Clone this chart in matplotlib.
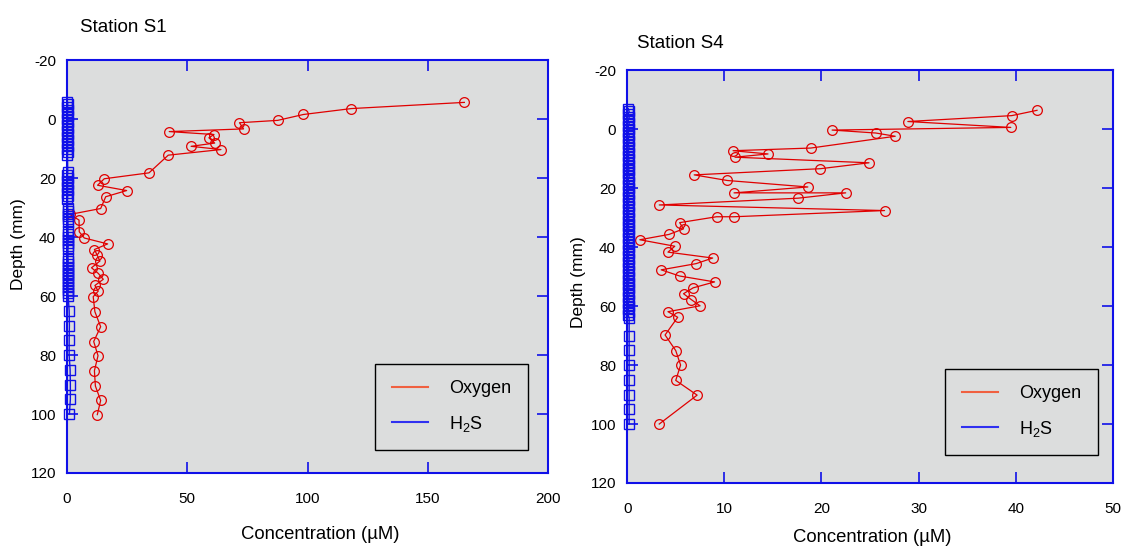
import matplotlib
matplotlib.use("Agg")
import matplotlib.pyplot as plt
from matplotlib.lines import Line2D

plt.rcParams["font.family"] = ["Liberation Sans", "DejaVu Sans"]
plt.rcParams["mathtext.fontset"] = "custom"
plt.rcParams["mathtext.rm"] = "Liberation Sans"
plt.rcParams["mathtext.it"] = "Liberation Sans"
plt.rcParams["axes.unicode_minus"] = False

# Station S1 oxygen profile (concentration in uM, depth in mm)
s1_o2_conc = [165.2, 118.2, 98.3, 87.6, 71.7, 73.4, 42.5, 61.1, 59.0, 61.4, 51.6, 64.0, 42.1,
              34.1, 15.5, 12.7, 24.8, 16.1, 14.0, 1.2, 5.0, 5.1, 7.2, 16.9, 11.4, 12.6, 13.7,
              10.2, 13.0, 15.1, 11.6, 13.0, 10.9, 11.6, 14.0, 11.1, 12.9, 11.4, 11.8, 14.0, 12.6]
s1_o2_depth = [-5.7, -3.6, -1.6, 0.4, 1.2, 3.3, 4.2, 5.2, 6.3, 8.1, 9.2, 10.3, 12.2,
               18.2, 20.2, 22.4, 24.2, 26.3, 30.3, 32.3, 34.2, 38.2, 40.3, 42.3, 44.2, 46.2, 48.1,
               50.4, 52.3, 54.3, 56.4, 58.3, 60.2, 65.3, 70.4, 75.4, 80.2, 85.3, 90.5, 95.4, 100.2]

# Station S1 H2S profile
s1_h2s_depth = [-6, -5, -4, -3, -2, -1, 0, 1, 2, 3, 4, 5, 6, 7, 8, 9, 10, 11, 12,
                18, 19, 20, 21, 22, 23, 24, 25, 26, 27,
                30, 31, 32, 33, 34, 35,
                38, 39, 40, 41, 42, 43, 44,
                47, 48, 49, 50, 51, 52, 53, 54, 55, 56, 57, 58, 59, 60,
                65, 70, 75, 80, 85, 90, 95, 100]
s1_h2s_conc = [0.2, 0.3, 0.2, 0.3, 0.2, 0.3, 0.2, 0.3, 0.2, 0.3, 0.2, 0.3, 0.2, 0.3, 0.2, 0.3, 0.2, 0.3, 0.2,
               0.3, 0.2, 0.3, 0.2, 0.3, 0.2, 0.3, 0.2, 0.3, 0.2,
               0.3, 0.4, 0.3, 0.4, 0.3, 0.4,
               0.4, 0.5, 0.4, 0.5, 0.4, 0.5, 0.4,
               0.4, 0.5, 0.4, 0.5, 0.4, 0.5, 0.4, 0.5, 0.4, 0.5, 0.4, 0.5, 0.4, 0.5,
               0.9, 1.0, 0.9, 0.9, 1.3, 1.4, 1.4, 1.0]

# Station S4 oxygen profile
s4_o2_conc = [42.2, 39.6, 28.9, 39.5, 21.1, 25.6, 27.6, 18.9, 10.9, 14.5, 11.1, 24.9, 19.9,
              6.9, 10.3, 18.6, 11.0, 22.5, 17.6, 3.3, 26.5, 11.0, 9.2, 5.4, 5.8, 4.3, 1.3,
              4.9, 4.2, 8.8, 7.1, 3.5, 5.4, 9.0, 6.8, 5.8, 6.6, 7.5, 4.2, 5.2,
              3.9, 5.0, 5.5, 5.0, 7.2, 3.3]
s4_o2_depth = [-6.4, -4.6, -2.6, -0.6, 0.3, 1.3, 2.4, 6.4, 7.3, 8.4, 9.5, 11.4, 13.4,
               15.5, 17.4, 19.6, 21.6, 21.6, 23.4, 25.7, 27.6, 29.7, 29.7, 31.7, 33.8, 35.7, 37.5,
               39.7, 41.7, 43.7, 45.6, 47.7, 49.8, 51.8, 53.8, 55.8, 57.8, 59.9, 61.9, 63.8,
               69.8, 75.1, 80.0, 85.2, 90.2, 100.0]

# Station S4 H2S profile
s4_h2s_depth = [-7, -6, -5, -4, -3, -2, -1, 0, 1, 2, 3, 4, 5, 6, 7, 8, 9, 10, 11, 12,
                13, 14, 15, 16, 17, 18, 19, 20, 21, 22, 23, 24, 25, 26, 27, 28, 29, 30,
                31, 32, 33, 34, 35, 36, 37, 38, 39, 40, 41, 42, 43, 44, 45, 46, 47, 48,
                49, 50, 51, 52, 53, 54, 55, 56, 57, 58, 59, 60, 61, 62, 63, 64,
                70, 75, 80, 85, 90, 95, 100]
s4_h2s_conc = [0.1, 0.2, 0.1, 0.2, 0.1, 0.2, 0.1, 0.2, 0.1, 0.2, 0.1, 0.2, 0.1, 0.2, 0.1, 0.2, 0.1, 0.2, 0.1, 0.2,
               0.1, 0.2, 0.1, 0.2, 0.1, 0.2, 0.1, 0.2, 0.1, 0.2, 0.1, 0.2, 0.1, 0.2, 0.1, 0.2, 0.1, 0.2,
               0.1, 0.2, 0.1, 0.2, 0.1, 0.2, 0.1, 0.2, 0.1, 0.2, 0.1, 0.2, 0.1, 0.2, 0.1, 0.2, 0.1, 0.2,
               0.1, 0.2, 0.1, 0.2, 0.1, 0.2, 0.1, 0.2, 0.1, 0.2, 0.1, 0.2, 0.1, 0.2, 0.1, 0.2,
               0.2, 0.2, 0.2, 0.2, 0.2, 0.2, 0.2]

blue = "#1010e8"
red = "#e00000"
bg = "#dcdddd"

fig = plt.figure(figsize=(11.24, 5.46), dpi=100)
ax1 = fig.add_axes([0.0596, 0.1337, 0.428, 0.756])
ax2 = fig.add_axes([0.558, 0.1154, 0.432, 0.756])


def style(ax, o2, h2s, xmax, xstep, title, tpos, leg_anchor, xlab_pos, ylab_pos):
    ax.set_facecolor(bg)
    ax.plot(o2[0], o2[1], color=red, lw=0.9, marker="o", ms=7,
            mfc="none", mec=red, mew=0.9)
    ax.plot(h2s[0], h2s[1], color=blue, lw=1.0, marker="s", ms=6.5,
            mfc="none", mec=blue, mew=1.0, clip_on=False)
    ax.set_xlim(0, xmax)
    ax.set_ylim(120, -20)
    ax.set_xticks(range(0, xmax + 1, xstep))
    ax.set_yticks(range(-20, 121, 20))
    for s in ax.spines.values():
        s.set_color(blue)
        s.set_linewidth(1.5)
    ax.tick_params(direction="in", length=8, width=1.2, color=blue,
                   top=True, right=True, labelsize=11, labelcolor="black")
    ax.tick_params(axis="x", pad=14)
    ax.tick_params(axis="y", pad=8)
    ax.set_xlabel("Concentration (µM)", fontsize=13.3)
    ax.set_ylabel("Depth (mm)", fontsize=12.5)
    ax.xaxis.set_label_coords(*xlab_pos)
    ax.yaxis.set_label_coords(*ylab_pos)
    fig.text(tpos[0], tpos[1], title, fontsize=13.6, ha="left", va="center")
    handles = [Line2D([], [], color="#f06040", lw=1.5),
               Line2D([], [], color="#3030f0", lw=1.5)]
    leg = ax.legend(handles, ["Oxygen", "H$_2$S"], loc="lower right",
                    bbox_to_anchor=leg_anchor, borderaxespad=0, fontsize=13,
                    fancybox=False, frameon=True, handlelength=2.0,
                    borderpad=0.9, labelspacing=0.9, handletextpad=1.2)
    leg.get_frame().set_edgecolor("black")
    leg.get_frame().set_facecolor(bg)
    leg.get_frame().set_linewidth(1.0)
    leg.get_frame().set_alpha(1)


style(ax1, (s1_o2_conc, s1_o2_depth), (s1_h2s_conc, s1_h2s_depth), 200, 50,
      "Station S1", (80 / 1124, 1 - 27 / 546), (0.958, 0.056),
      (0.527, -0.129), (-0.085, 0.555))

style(ax2, (s4_o2_conc, s4_o2_depth), (s4_h2s_conc, s4_h2s_depth), 50, 10,
      "Station S4", (637 / 1124, 1 - 44 / 546), (0.969, 0.068),
      (0.505, -0.112), (-0.085, 0.487))

fig.savefig("out.png", dpi=100)
